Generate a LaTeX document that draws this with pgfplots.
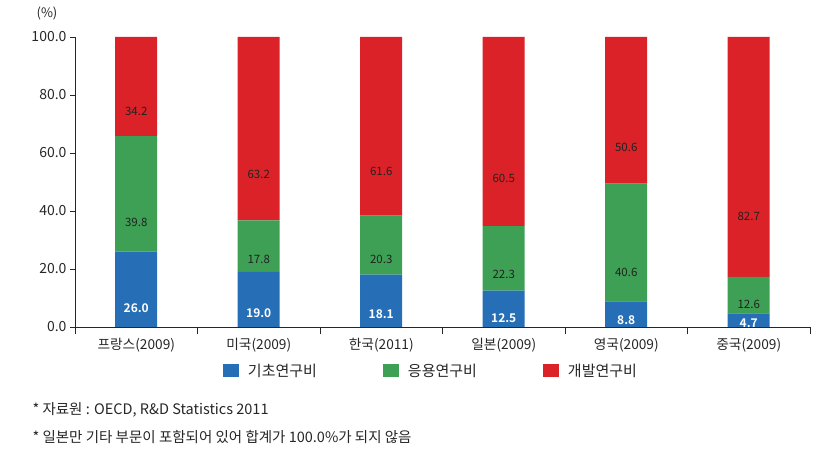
\documentclass[border=0pt]{standalone}
\usepackage{fontspec}
\setmainfont{Noto Sans CJK KR}[BoldFont={Noto Sans CJK KR Bold}]
\usepackage{pgfplots}
\usepackage{pgfplotstable}
\pgfplotsset{compat=1.18}
\definecolor{cblue}{RGB}{38,111,182}
\definecolor{cgreen}{RGB}{62,160,84}
\definecolor{cred}{RGB}{218,34,40}
\definecolor{ctext}{RGB}{34,34,34}

\pgfplotstableread{
x y lab
0 26.0 26.0
1 19.0 19.0
2 18.1 18.1
3 12.5 12.5
4 8.8 8.8
5 4.7 4.7
}\basic
\pgfplotstableread{
x y lab
0 39.8 39.8
1 17.8 17.8
2 20.3 20.3
3 22.3 22.3
4 40.6 40.6
5 12.6 12.6
}\applied
\pgfplotstableread{
x y lab
0 34.2 34.2
1 63.2 63.2
2 61.6 61.6
3 65.2 60.5
4 50.6 50.6
5 82.7 82.7
}\devel

\begin{document}
\begin{tikzpicture}
\path[use as bounding box] (0pt,0pt) rectangle (831pt,-465pt);
\begin{axis}[
  at={(75pt,-327pt)}, anchor=south west,
  scale only axis, width=735pt, height=290pt,
  xmin=-0.5, xmax=5.5, ymin=0, ymax=100,
  axis lines*=left,
  axis line style={draw=black!85, line width=0.8pt},
  tick style={draw=black!85, line width=0.8pt},
  tick align=outside,
  major tick length=5pt,
  minor tick length=7pt,
  xtick={0,...,5},
  xticklabels={프랑스(2009),미국(2009),한국(2011),일본(2009),영국(2009),중국(2009)},
  major x tick style={draw=none},
  minor xtick={-0.5,0.5,1.5,2.5,3.5,4.5,5.5},
  ytick={0,20,40,60,80,100},
  /pgf/number format/assume math mode=true,
  yticklabel style={/pgf/number format/fixed,/pgf/number format/fixed zerofill,/pgf/number format/precision=1, font=\fontsize{14}{14}\selectfont, text=black!85},
  xticklabel style={font=\fontsize{13.7}{13.7}\selectfont, text=black!85, yshift=-3pt},
  ybar stacked, bar width=42pt,
  legend columns=3,
  legend style={at={(axis description cs:0.197,-0.1517)}, anchor=west, draw=none, font=\fontsize{15}{15}\selectfont, text=black!85,
    /tikz/every even column/.append style={column sep=64pt}},
  legend image code/.code={\fill[#1, draw=none] (0pt,-6.5pt) rectangle (16pt,6.5pt); \path (23pt,0pt);},
]
\addplot[fill=cblue, draw=none, point meta=explicit symbolic, nodes near coords,
  visualization depends on={\thisrow{y} \as \segh},
  every node near coord/.append style={anchor=center, yshift={-\segh*0.725pt}, font=\bfseries\fontsize{12}{12}\selectfont, text=white}]
  table[x=x,y=y,meta=lab]{\basic};
\addlegendentry{기초연구비}
\addplot[fill=cgreen, draw=none, point meta=explicit symbolic, nodes near coords,
  visualization depends on={\thisrow{y} \as \segh},
  every node near coord/.append style={anchor=center, yshift={-\segh*0.725pt}, font=\fontsize{11.5}{11.5}\selectfont, text=ctext}]
  table[x=x,y=y,meta=lab]{\applied};
\addlegendentry{응용연구비}
\addplot[fill=cred, draw=none, point meta=explicit symbolic, nodes near coords,
  visualization depends on={\thisrow{y} \as \segh},
  every node near coord/.append style={anchor=center, yshift={-\segh*0.725pt}, font=\fontsize{11.5}{11.5}\selectfont, text=ctext}]
  table[x=x,y=y,meta=lab]{\devel};
\addlegendentry{개발연구비}
\end{axis}
\node[font=\fontsize{13}{13}\selectfont, text=black!85] at (47pt,-13pt) {(\%)};
\node[anchor=west, font=\fontsize{14.5}{14.5}\selectfont, text=black!85] at (29pt,-410pt) {* 자료원 : OECD, R\&D Statistics 2011};
\node[anchor=west, font=\fontsize{14.5}{14.5}\selectfont, text=black!85] at (29pt,-437pt) {* 일본만 기타 부문이 포함되어 있어 합계가 100.0\%가 되지 않음};
\end{tikzpicture}
\end{document}
